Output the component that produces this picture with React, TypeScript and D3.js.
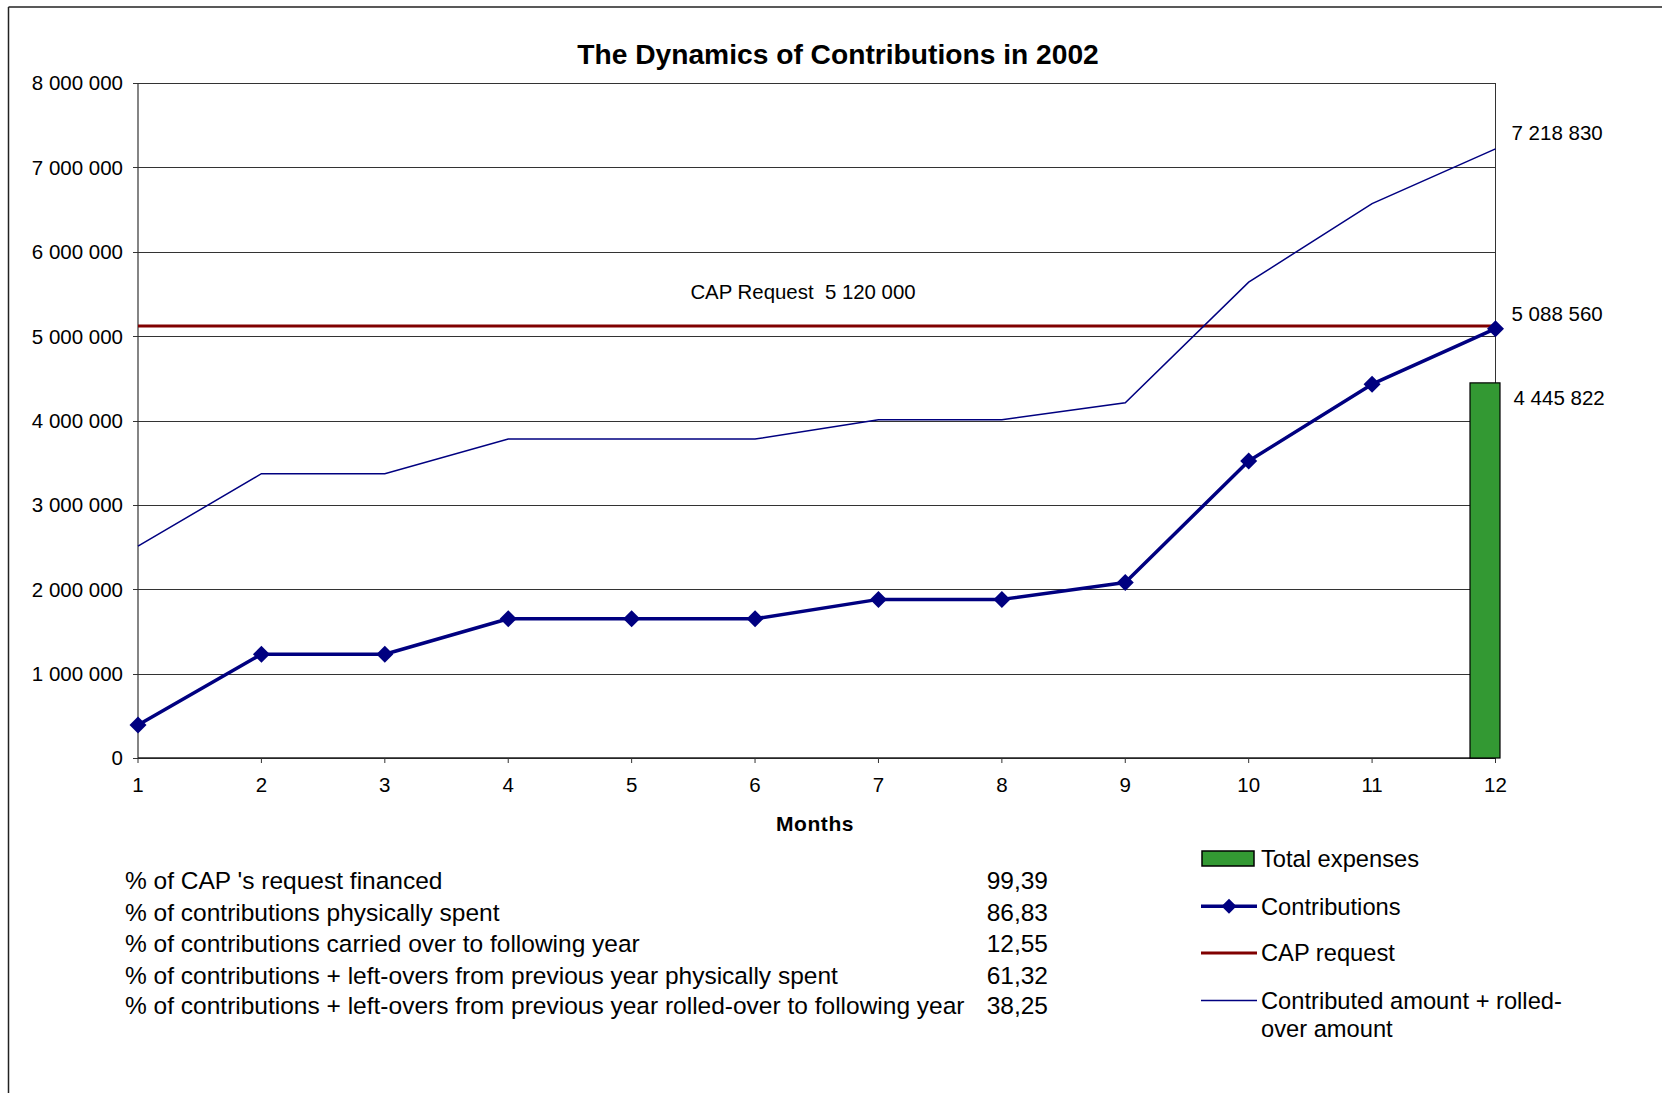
import React from "react";
import * as d3 from "d3";

const months = [1, 2, 3, 4, 5, 6, 7, 8, 9, 10, 11, 12];
const contributions = [390000, 1230000, 1230000, 1650000, 1650000, 1650000, 1880000, 1880000, 2080000, 3520000, 4430000, 5088560];
const rolledOver = [2510000, 3370000, 3370000, 3780000, 3780000, 3780000, 4010000, 4010000, 4210000, 5640000, 6570000, 7218830];
const capRequest = 5120000;
const totalExpenses = 4445822;
const yTicks = [0, 1000000, 2000000, 3000000, 4000000, 5000000, 6000000, 7000000, 8000000];
const tableLabels = [
  "% of CAP 's request financed",
  "% of contributions physically spent",
  "% of contributions carried over to following year",
  "% of contributions + left-overs from previous year physically spent",
  "% of contributions + left-overs from previous year rolled-over to following year",
];
const tableValues = ["99,39", "86,83", "12,55", "61,32", "38,25"];
const legendLabels = ["Total expenses", "Contributions", "CAP request", "Contributed amount + rolled-", "over amount"];

const FONT = "'Liberation Sans', Arial, Helvetica, sans-serif";
const NAVY = "#000080";
const RED = "#800000";
const GREEN = "#339933";

const fmt = (v: number) => d3.format(",")(v).replace(/,/g, " ");

export default function App() {
  const W = 1662, H = 1093;
  const left = 138, right = 1495.5, top = 83, bottom = 758;
  const x = d3.scaleLinear().domain([1, 12]).range([left, right]);
  const y = d3.scaleLinear().domain([0, 8000000]).range([bottom, top]);

  const lineGen = d3.line<number>().x((_, i) => x(months[i])).y((d) => y(d));
  const diamond = (cx: number, cy: number, r: number) =>
    `M${cx},${cy - r}L${cx + r},${cy}L${cx},${cy + r}L${cx - r},${cy}Z`;

  const tableY = [889, 921, 952, 984, 1014];
  const legendY = [858.6, 906.3, 952.9, 1000.6, 1028.2];

  return (
    <svg width={W} height={H} style={{ position: "absolute", left: 0, top: 0, display: "block" }} fontFamily={FONT}>
      <rect x={0} y={0} width={W} height={H} fill="#fff" />
      {/* outer frame */}
      <line x1={8.5} y1={7} x2={W} y2={7} stroke="#222" strokeWidth={1.5} />
      <line x1={8.5} y1={7} x2={8.5} y2={H} stroke="#222" strokeWidth={1.5} />

      <text x={838} y={64} textAnchor="middle" fontWeight="bold" fontSize={28.2} fill="#000">
        The Dynamics of Contributions in 2002
      </text>

      {/* gridlines */}
      {yTicks.map((t) => (
        <g key={t}>
          <line x1={left} x2={right} y1={Math.round(y(t)) + 0.5} y2={Math.round(y(t)) + 0.5} stroke="#333" strokeWidth={1} />
          <line x1={left - 5} x2={left} y1={Math.round(y(t)) + 0.5} y2={Math.round(y(t)) + 0.5} stroke="#333" strokeWidth={1} />
          <text x={123} y={y(t)} dy="0.36em" textAnchor="end" fontSize={20.5} fill="#000">
            {fmt(t)}
          </text>
        </g>
      ))}
      {/* plot borders */}
      <line x1={left} x2={left} y1={top} y2={bottom} stroke="#333" strokeWidth={1.2} />
      <line x1={right} x2={right} y1={top} y2={bottom} stroke="#333" strokeWidth={1} />
      <line x1={left} x2={right} y1={bottom} y2={bottom} stroke="#222" strokeWidth={1.5} />

      {/* x ticks */}
      {months.map((m) => (
        <g key={m}>
          <line x1={x(m)} x2={x(m)} y1={bottom} y2={bottom + 5} stroke="#333" strokeWidth={1} />
          <text x={x(m)} y={792} textAnchor="middle" fontSize={20.5} fill="#000">
            {m}
          </text>
        </g>
      ))}
      <text x={815} y={831} textAnchor="middle" fontWeight="bold" fontSize={21} letterSpacing={0.6} fill="#000">
        Months
      </text>

      {/* total expenses bar */}
      <rect
        x={x(12) - 25.5}
        y={y(totalExpenses)}
        width={30}
        height={y(0) - y(totalExpenses)}
        fill={GREEN}
        stroke="#000"
        strokeWidth={1.2}
      />

      {/* CAP request */}
      <line x1={left} x2={right} y1={y(capRequest)} y2={y(capRequest)} stroke={RED} strokeWidth={3} />
      <text x={803} y={299} textAnchor="middle" fontSize={20.4} fill="#000" xmlSpace="preserve">
        {"CAP Request  " + fmt(capRequest)}
      </text>

      {/* rolled-over */}
      <path d={lineGen(rolledOver) || ""} fill="none" stroke={NAVY} strokeWidth={1.5} />
      {/* contributions */}
      <path d={lineGen(contributions) || ""} fill="none" stroke={NAVY} strokeWidth={3.5} strokeLinejoin="round" />
      {contributions.map((v, i) => (
        <path key={i} d={diamond(x(months[i]), y(v), 8.5)} fill={NAVY} />
      ))}

      {/* data labels */}
      <text x={1511.5} y={140} fontSize={20.5} fill="#000">{fmt(rolledOver[11])}</text>
      <text x={1511.5} y={321} fontSize={20.5} fill="#000">{fmt(contributions[11])}</text>
      <text x={1513.5} y={405} fontSize={20.5} fill="#000">{fmt(totalExpenses)}</text>

      {/* table */}
      {tableLabels.map((t, i) => (
        <g key={i}>
          <text x={125} y={tableY[i]} fontSize={24.5} fill="#000">{t}</text>
          <text x={1048} y={tableY[i]} textAnchor="end" fontSize={24.5} fill="#000">{tableValues[i]}</text>
        </g>
      ))}

      {/* legend */}
      <rect x={1202} y={851} width={52} height={15} fill={GREEN} stroke="#000" strokeWidth={1.5} />
      <line x1={1201} x2={1257} y1={legendY[1]} y2={legendY[1]} stroke={NAVY} strokeWidth={3.5} />
      <path d={diamond(1229, legendY[1], 7.5)} fill={NAVY} />
      <line x1={1201} x2={1257} y1={legendY[2]} y2={legendY[2]} stroke={RED} strokeWidth={3} />
      <line x1={1201} x2={1257} y1={legendY[3]} y2={legendY[3]} stroke={NAVY} strokeWidth={1.5} />
      {legendLabels.map((t, i) => (
        <text key={i} x={1261} y={legendY[i]} dy="0.36em" fontSize={23.7} fill="#000">{t}</text>
      ))}
    </svg>
  );
}
